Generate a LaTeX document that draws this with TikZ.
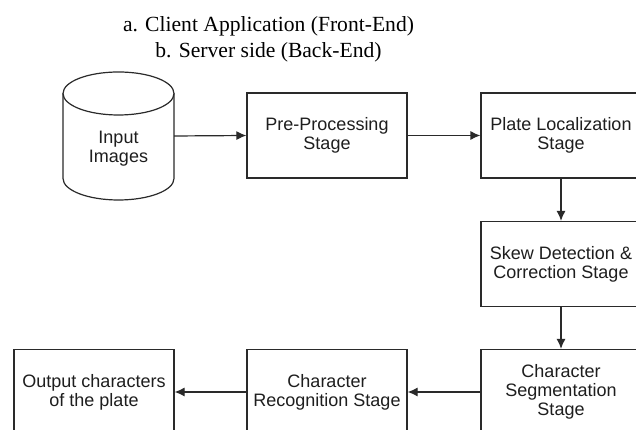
\documentclass[tikz,border=0pt]{standalone}
\usepackage{fontspec}
\setmainfont{Liberation Serif}
\newfontfamily\diagfont{Liberation Sans}
\usetikzlibrary{arrows.meta}
\definecolor{linec}{HTML}{2A2A2A}
\definecolor{textc}{HTML}{1E1E1E}
\tikzset{
  stagebox/.style={draw=linec, line width=1.2pt, minimum width=160pt, minimum height=85pt,
    align=center, inner sep=0pt, text=textc, font=\diagfont\fontsize{18}{19}\selectfont},
  flow/.style={draw=linec, line width=1.2pt, -{Latex[length=10pt,width=9pt]}},
}
\begin{document}
\begin{tikzpicture}[x=1pt,y=1pt]
\clip (0,0) rectangle (636,430);
\fill[white] (0,0) rectangle (636,430);
% title
\node[align=center, font=\fontsize{21.6}{26}\selectfont, text=black] (title) at (268.5,390.5)
  {a. Client Application (Front-End)\\b. Server side (Back-End)};
% cylinder
\node[minimum width=111pt, minimum height=128pt, inner sep=0pt] (inp) at (118.5,294) {};
\draw[linec, line width=1.2pt, fill=white] (63,336.5) -- (63,251.5) arc[start angle=180, end angle=360, x radius=55.5, y radius=21.5] -- (174,336.5);
\draw[linec, line width=1.2pt] (118.5,336.5) ellipse[x radius=55.5, y radius=21.5];
\node[align=center, text=textc, font=\diagfont\fontsize{18}{19}\selectfont] (inptext) at (118.5,281.5) {Input\\Images};
% boxes
\node[stagebox] (pre) at (327,294.5) {Pre-Processing\\Stage};
\node[stagebox] (plate) at (561,294.5) {Plate Localization\\Stage};
\node[stagebox] (skew) at (561,166) {Skew Detection \&\\Correction Stage};
\node[stagebox] (seg) at (561,38) {Character\\Segmentation\\Stage};
\node[stagebox] (rec) at (327,38) {Character\\Recognition Stage};
\node[stagebox] (out) at (94,38) {Output characters\\of the plate};
% connectors
\draw[flow] (inp.east) -- (pre.west);
\draw[flow] (pre.east) -- (plate.west);
\draw[flow] (plate.south) -- (skew.north);
\draw[flow] (skew.south) -- (seg.north);
\draw[flow] (seg.west) -- (rec.east);
\draw[flow] (rec.west) -- (out.east);
\end{tikzpicture}
\end{document}
